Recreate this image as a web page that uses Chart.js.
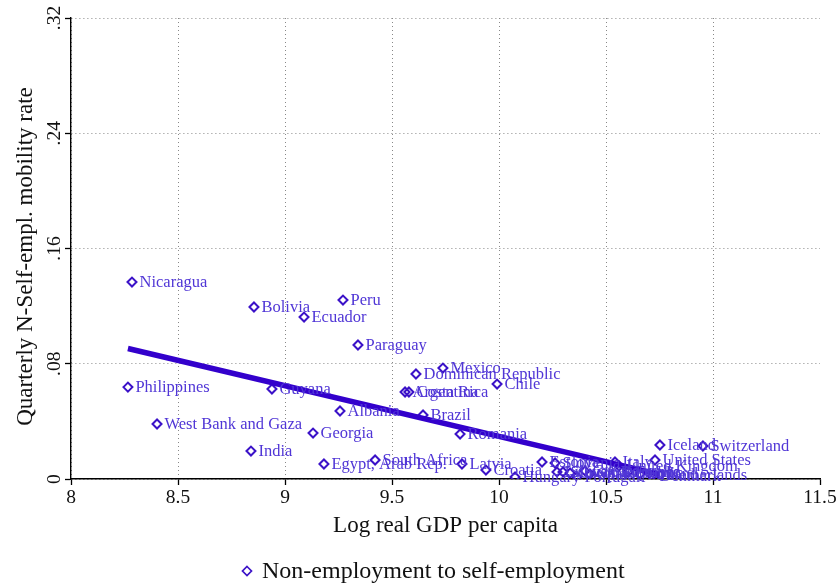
<!DOCTYPE html>
<html>
<head>
<meta charset="utf-8">
<script src="https://cdn.jsdelivr.net/npm/chart.js@4.4.1/dist/chart.umd.min.js"></script>
<style>
  html, body { margin: 0; padding: 0; background: #fff; }
  #wrap { width: 838px; height: 584px; position: relative; }
</style>
</head>
<body>
<div id="wrap"><canvas id="chart"></canvas></div>
<script>
// Countries, log real GDP per capita and quarterly non-employment -> self-employment rate
const countries = [
  'Nicaragua', 'Bolivia', 'Peru', 'Ecuador', 'Paraguay', 'Mexico', 'Dominican Republic',
  'Chile', 'Argentina', 'Costa Rica', 'Philippines', 'Guyana', 'Albania', 'Brazil',
  'West Bank and Gaza', 'Georgia', 'Romania', 'India', 'Egypt, Arab Rep.', 'South Africa',
  'Latvia', 'Croatia', 'Hungary', 'Iceland', 'Switzerland', 'United States', 'Italy',
  'United Kingdom', 'Estonia', 'Slovenia', 'Lithuania', 'Slovak Republic', 'Czech Republic',
  'Portugal', 'Greece', 'Spain', 'France', 'Finland', 'Denmark', 'Netherlands'
];
const logGdp = [
  8.285, 8.855, 9.271, 9.089, 9.341, 9.738, 9.612,
  9.991, 9.561, 9.579, 8.266, 8.939, 9.257, 9.645,
  8.402, 9.131, 9.818, 8.841, 9.182, 9.421,
  9.827, 9.939, 10.075, 10.752, 10.953, 10.729, 10.542,
  10.561, 10.201, 10.262, 10.271, 10.299, 10.332,
  10.364, 10.402, 10.425, 10.603, 10.659, 10.715, 10.752
];
const mobilityRate = [
  0.1367, 0.1194, 0.1242, 0.1124, 0.0930, 0.0770, 0.0729,
  0.0659, 0.0604, 0.0604, 0.0638, 0.0625, 0.0472, 0.0444,
  0.0382, 0.0319, 0.0312, 0.0194, 0.0104, 0.0132,
  0.0104, 0.0062, 0.0014, 0.0236, 0.0229, 0.0132, 0.0118,
  0.0090, 0.0118, 0.0111, 0.0049, 0.0049, 0.0042,
  0.0014, 0.0056, 0.0035, 0.0049, 0.0035, 0.0021, 0.0028
];
// Linear fit endpoints
const fitX = [8.266, 10.75];
const fitY = [0.0906, 0.0032];

const xTicks = [8, 8.5, 9, 9.5, 10, 10.5, 11, 11.5];
const xTickLabels = ['8', '8.5', '9', '9.5', '10', '10.5', '11', '11.5'];
const yTicks = [0, 0.08, 0.16, 0.24, 0.32];
const yTickLabels = ['0', '.08', '.16', '.24', '.32'];

const xTitle = 'Log real GDP per capita';
const yTitle = 'Quarterly N-Self-empl. mobility rate';
const legendLabel = 'Non-employment to self-employment';

const MARK = '#3b12c8';
const LINE = '#3300cc';
const LABEL = '#5036d6';
const SERIF = '"Liberation Serif", "DejaVu Serif", serif';

const points = logGdp.map((x, i) => ({ x, y: mobilityRate[i] }));
const fitLine = fitX.map((x, i) => ({ x, y: fitY[i] }));

const decorations = {
  id: 'decorations',
  afterDraw(chart) {
    const { ctx, chartArea, scales } = chart;
    const xs = scales.x, ys = scales.y;
    ctx.save();

    // point labels
    const meta = chart.getDatasetMeta(1);
    ctx.font = '16.5px ' + SERIF;
    ctx.fillStyle = LABEL;
    ctx.textAlign = 'left';
    ctx.textBaseline = 'middle';
    meta.data.forEach((el, i) => {
      ctx.fillText(countries[i], el.x + 7.5, el.y + 1);
    });

    // x tick labels
    ctx.fillStyle = '#111';
    ctx.font = '19.5px ' + SERIF;
    ctx.textAlign = 'center';
    ctx.textBaseline = 'middle';
    xTicks.forEach((v, i) => {
      ctx.fillText(xTickLabels[i], xs.getPixelForValue(v), chartArea.bottom + 19);
    });

    // y tick labels, rotated
    yTicks.forEach((v, i) => {
      ctx.save();
      ctx.translate(chartArea.left - 16, ys.getPixelForValue(v));
      ctx.rotate(-Math.PI / 2);
      ctx.fillText(yTickLabels[i], 0, 0);
      ctx.restore();
    });

    // axis titles
    ctx.font = '23px ' + SERIF;
    ctx.fillText(xTitle, (chartArea.left + chartArea.right) / 2, chartArea.bottom + 47);
    ctx.save();
    ctx.translate(chartArea.left - 45, (chartArea.top + chartArea.bottom) / 2 + 8);
    ctx.rotate(-Math.PI / 2);
    ctx.fillText(yTitle, 0, 0);
    ctx.restore();

    // legend
    const lx = 247, ly = 571;
    ctx.strokeStyle = MARK;
    ctx.lineWidth = 1.7;
    ctx.beginPath();
    ctx.moveTo(lx, ly - 4.5); ctx.lineTo(lx + 4.5, ly); ctx.lineTo(lx, ly + 4.5); ctx.lineTo(lx - 4.5, ly);
    ctx.closePath();
    ctx.stroke();
    ctx.fillStyle = '#111';
    ctx.textAlign = 'left';
    ctx.font = '24px ' + SERIF;
    ctx.fillText(legendLabel, lx + 15, ly + 1);

    ctx.restore();
  }
};

new Chart(document.getElementById('chart'), {
  type: 'scatter',
  data: {
    datasets: [
      {
        type: 'line',
        label: 'Fitted values',
        data: fitLine,
        borderColor: LINE,
        borderWidth: 5.5,
        pointRadius: 0,
        fill: false,
        tension: 0
      },
      {
        label: legendLabel,
        data: points,
        pointStyle: 'rectRot',
        pointRadius: 4.5,
        pointBorderWidth: 2,
        borderColor: MARK,
        backgroundColor: 'rgba(255,255,255,0)',
        pointBackgroundColor: 'rgba(255,255,255,0)'
      }
    ]
  },
  options: {
    responsive: true,
    maintainAspectRatio: false,
    animation: false,
    devicePixelRatio: 1,
    layout: { padding: { left: 0, right: 18, top: 18, bottom: 0 } },
    plugins: { legend: { display: false }, tooltip: { enabled: false } },
    scales: {
      x: {
        type: 'linear',
        min: 8, max: 11.5,
        afterBuildTicks: s => { s.ticks = xTicks.map(v => ({ value: v })); },
        afterFit: s => { s.height = 105; },
        ticks: { display: false },
        grid: {
          color: c => (c.tick && c.tick.value === 11.5) ? 'rgba(0,0,0,0)' : '#888',
          lineWidth: 1,
          drawTicks: true,
          tickLength: 6,
          tickColor: '#000',
          tickWidth: 1.3
        },
        border: { display: true, color: '#000', width: 1.4, dash: [1, 3] }
      },
      y: {
        type: 'linear',
        min: 0, max: 0.32,
        afterBuildTicks: s => { s.ticks = yTicks.map(v => ({ value: v })); },
        afterFit: s => { s.width = 71; },
        ticks: { display: false },
        grid: {
          color: '#888',
          lineWidth: 1,
          drawTicks: true,
          tickLength: 6,
          tickColor: '#000',
          tickWidth: 1.3
        },
        border: { display: true, color: '#000', width: 1.4, dash: [1, 3] }
      }
    }
  },
  plugins: [decorations]
});
</script>
</body>
</html>
